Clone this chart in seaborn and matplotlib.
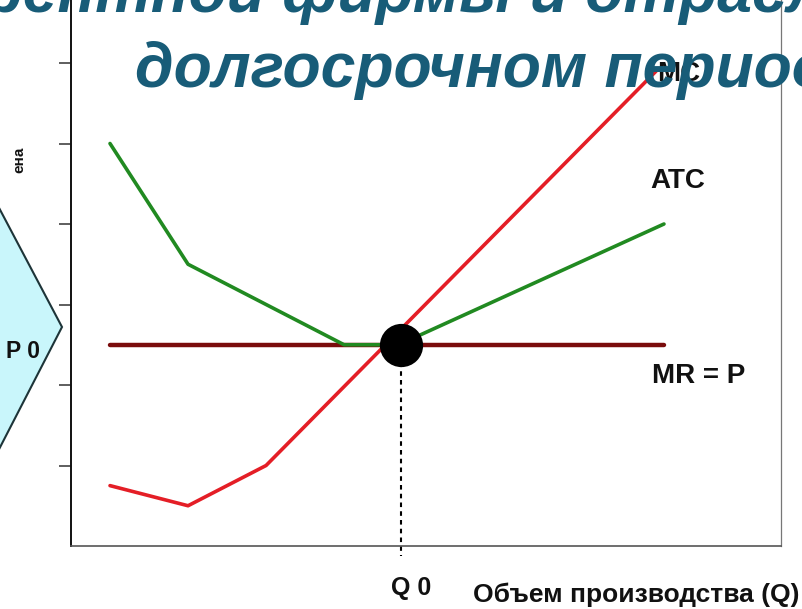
import matplotlib
matplotlib.use("Agg")
import matplotlib.pyplot as plt
from matplotlib.patches import Polygon
import numpy as np
import pandas as pd
import seaborn as sns

# Output quantity (Q) and cost / revenue levels
mc_q = [0.5, 1.5, 2.5, 7.5]
mc_cost = [0.75, 0.5, 1.0, 5.9]

atc_q = [0.5, 1.5, 3.5, 4.2, 5.9, 7.6]
atc_cost = [5.0, 3.5, 2.5, 2.5, 3.25, 4.0]

mr_q = [0.5, 7.6]
mr_price = [2.5, 2.5]

q0 = 4.23
p0 = 2.5

price_ticks = [1, 2, 3, 4, 5, 6]

sns.set_theme(style="white")
plt.rcParams["font.family"] = ["Liberation Sans", "DejaVu Sans"]

W, H = 802, 609
fig = plt.figure(figsize=(W / 100, H / 100), dpi=100)
fig.patch.set_facecolor("white")


def fx(px):
    return px / W


def fy(py):
    return 1 - py / H


ax = fig.add_axes([fx(71), fy(546), 710 / W, 7.5 * 80.5 / H])
ax.set_xlim(0, 9.1)
ax.set_ylim(0, 7.5)
ax.set_facecolor("white")

mc = pd.DataFrame({"Q": mc_q, "cost": mc_cost})
atc = pd.DataFrame({"Q": atc_q, "cost": atc_cost})
mr = pd.DataFrame({"Q": mr_q, "price": mr_price})

sns.lineplot(data=mr, x="Q", y="price", ax=ax, color="#7a0c0c", lw=3.2,
             solid_capstyle="round", zorder=3)
sns.lineplot(data=atc, x="Q", y="cost", ax=ax, color="#218a21", lw=2.6,
             solid_capstyle="round", zorder=4)
sns.lineplot(data=mc, x="Q", y="cost", ax=ax, color="#e41e26", lw=2.6,
             solid_capstyle="round", zorder=5)

# equilibrium point and its projection onto the Q axis
ax.plot([q0, q0], [p0, -0.12], color="black", lw=1.5, ls=(0, (2.2, 2.0)),
        clip_on=False, zorder=2)
sns.scatterplot(x=[q0], y=[p0], ax=ax, s=830, color="black",
                edgecolor="black", zorder=6)

ax.set_xlabel("")
ax.set_ylabel("")
ax.set_xticks([])
ax.set_yticks(price_ticks)
ax.set_yticklabels([])
ax.tick_params(axis="y", direction="out", length=8.6, width=1.1,
               color="#333333", left=True)
for side, col, lw in [("left", "#111111", 1.4), ("bottom", "#555555", 1.2),
                      ("right", "#777777", 0.9), ("top", "#777777", 0.9)]:
    ax.spines[side].set_color(col)
    ax.spines[side].set_linewidth(lw)

lab = dict(fontsize=20, fontweight="bold", color="#111111", va="baseline")
ax.text(7.42, 4.45, "ATC", **lab)
ax.text(7.45, 2.02, "MR = P", **lab)
ax.text(4.36, -0.61, "Q 0", ha="center", fontsize=18, fontweight="bold",
        color="#111111", va="baseline", clip_on=False)

# price marker on the left
arrow = Polygon([(fx(-40), fy(134)), (fx(62), fy(327)), (fx(-40), fy(525))],
                closed=True, facecolor="#c9f6fb", edgecolor="#1d3438",
                lw=1.5, transform=fig.transFigure, zorder=1)
fig.add_artist(arrow)
fig.text(fx(40), fy(358), "P 0", ha="right", va="baseline", fontsize=16.5,
         fontweight="bold", color="#111111")
fig.text(fx(26), fy(173), "ена", rotation=90, ha="right", va="bottom",
         fontsize=11, fontweight="bold", color="#111111")

fig.text(fx(473), fy(602), "Объем производства (Q)", ha="left",
         va="baseline", fontsize=19, fontweight="bold", color="#111111")

fig.text(fx(657), fy(81), "MC", ha="left", va="baseline", fontsize=20,
         fontweight="bold", color="#111111", zorder=9)

# slide heading; the first line is placed so that "фирмы" starts at x=282 px
title_kw = dict(fontsize=45, fontweight="bold", fontstyle="italic",
                color="#185c78", va="baseline", zorder=10)
renderer = fig.canvas.get_renderer()


def text_width(s):
    t = fig.text(0, 0, s, **title_kw)
    w = t.get_window_extent(renderer).width
    t.remove()
    return w


lead = text_width("конкурентной фирмы") - text_width("фирмы")
fig.text(fx(282 - lead), fy(12), "конкурентной фирмы и отрасли в",
         ha="left", **title_kw)
fig.text(fx(135), fy(87), "долгосрочном периоде", ha="left", **title_kw)

fig.savefig("out.png", dpi=100)
